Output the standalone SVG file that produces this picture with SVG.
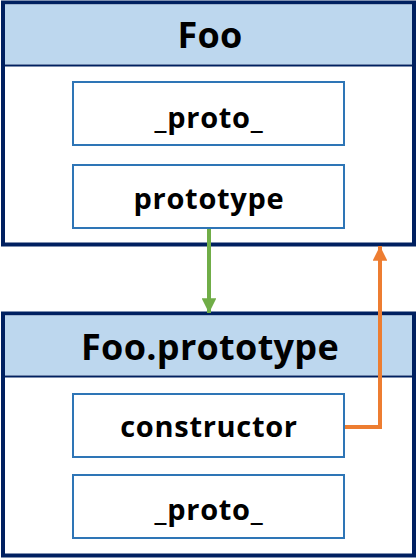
<svg xmlns="http://www.w3.org/2000/svg" width="418" height="559" viewBox="0 0 418 559">
<style>
.outer{fill:#ffffff;stroke:#002060;stroke-width:4}
.head{fill:#BDD7EE}
.sep{stroke:#002060;stroke-width:2}
.inner{fill:#ffffff;stroke:#2E75B6;stroke-width:2}
.t{font-family:"Open Sans","Noto Sans","DejaVu Sans",sans-serif;font-weight:bold;fill:#000000;text-anchor:middle}
.h{font-size:36px;letter-spacing:0.3px}
.i{font-size:29px;letter-spacing:0.7px}
</style>
<defs>
<marker id="ag" viewBox="0 0 10 10" refX="10" refY="5" markerWidth="3.7" markerHeight="3.7" orient="auto" markerUnits="strokeWidth"><path d="M0,0 L10,5 L0,10 z" fill="#70AD47"/></marker>
<marker id="ao" viewBox="0 0 10 10" refX="10" refY="5" markerWidth="3.7" markerHeight="3.7" orient="auto" markerUnits="strokeWidth"><path d="M0,0 L10,5 L0,10 z" fill="#ED7D31"/></marker>
</defs>
<g id="foo">
<rect class="outer" x="3" y="2.5" width="411" height="242"/>
<rect class="head" x="5" y="4.5" width="407" height="60"/>
<line class="sep" x1="5" y1="65.5" x2="412" y2="65.5"/>
<text class="t h" x="210" y="48">Foo</text>
</g>
<g id="foo-proto">
<rect class="inner" x="73" y="82" width="271" height="63"/>
<text class="t i" x="209" y="128">_proto_</text>
</g>
<g id="foo-prototype">
<rect class="inner" x="73" y="165" width="271" height="63"/>
<text class="t i" x="209" y="209">prototype</text>
</g>
<g id="fooproto">
<rect class="outer" x="3" y="313.5" width="411" height="242"/>
<rect class="head" x="5" y="315.5" width="407" height="60"/>
<line class="sep" x1="5" y1="376.5" x2="412" y2="376.5"/>
<text class="t h" x="210" y="359.5">Foo.prototype</text>
</g>
<g id="fooproto-constructor">
<rect class="inner" x="73" y="394" width="271" height="63"/>
<text class="t i" x="209" y="437">constructor</text>
</g>
<g id="fooproto-proto">
<rect class="inner" x="73" y="475" width="271" height="63"/>
<text class="t i" x="209" y="520">_proto_</text>
</g>
<g id="connectors" fill="none" stroke-width="4">
<path d="M209,229 L209,313" stroke="#70AD47" marker-end="url(#ag)"/>
<path d="M345,427 L380,427 L380,246" stroke="#ED7D31" stroke-linejoin="miter" marker-end="url(#ao)"/>
</g>
</svg>
